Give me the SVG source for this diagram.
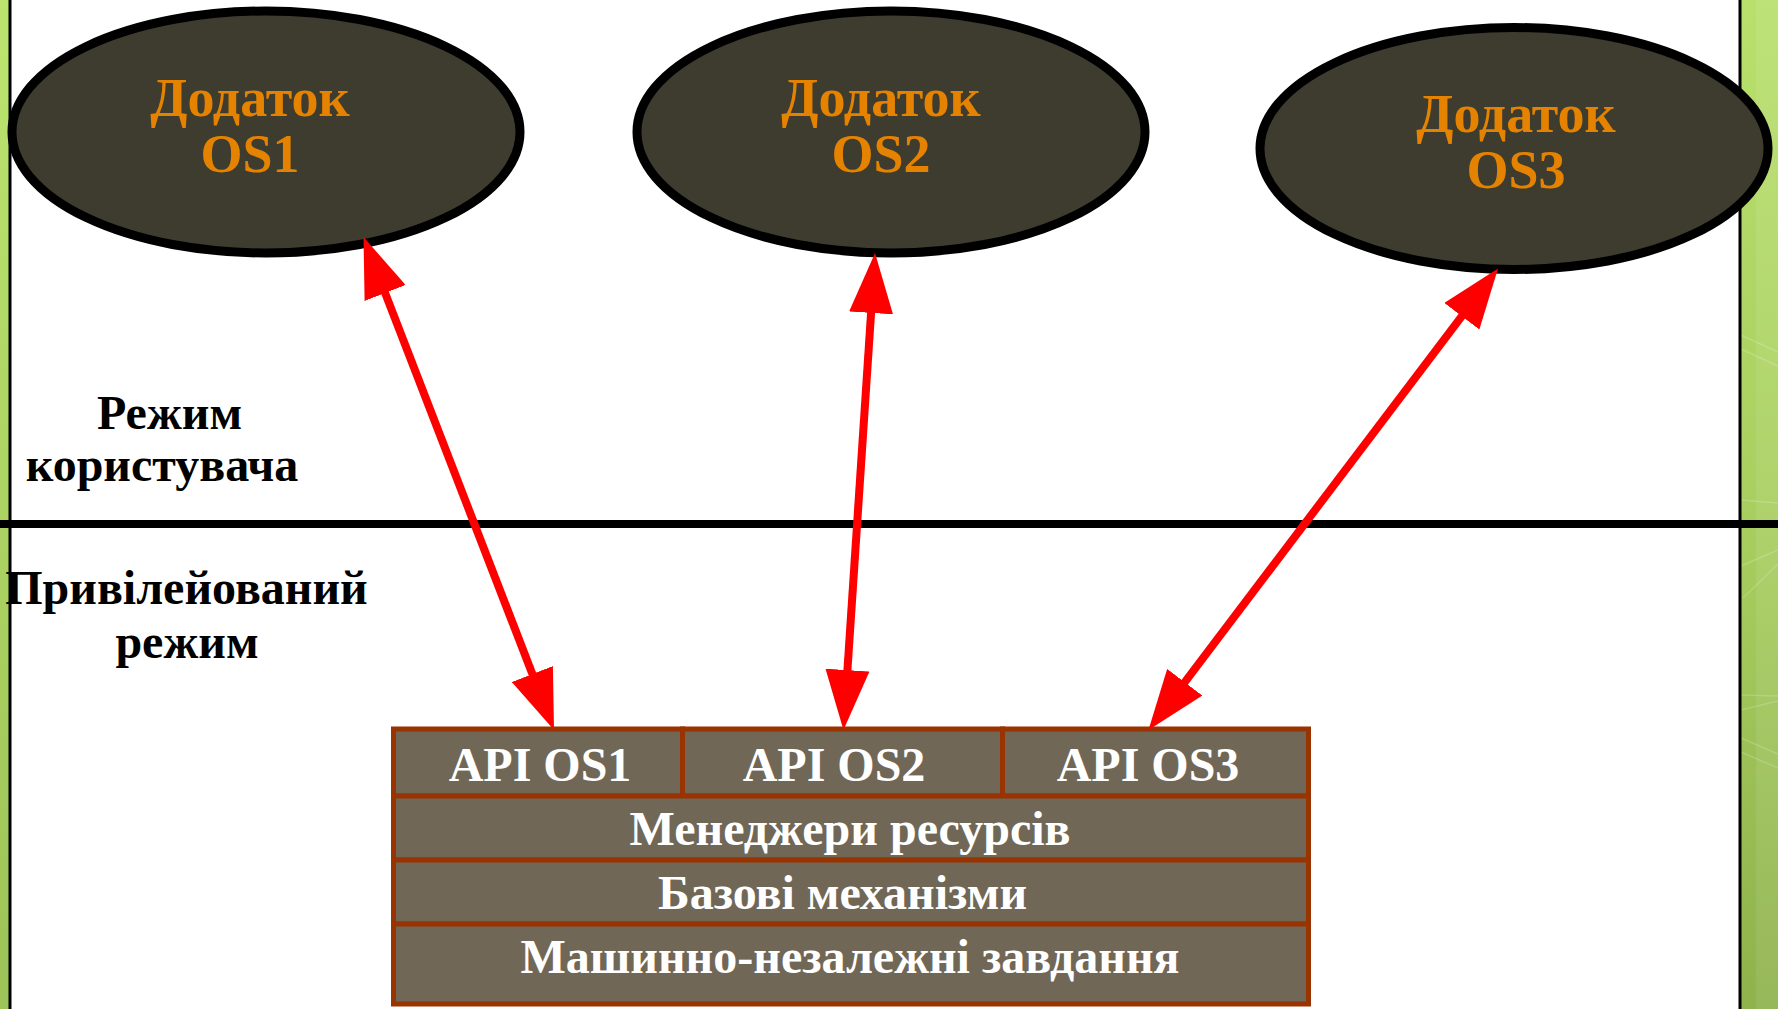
<svg xmlns="http://www.w3.org/2000/svg" width="1778" height="1009" viewBox="0 0 1778 1009">
  <style>
    .app { fill: #3e3c2f; stroke: #000000; stroke-width: 9; }
    .apptxt { font-family: "Liberation Serif", "Times New Roman", serif; font-weight: bold; font-size: 54px; fill: #e58300; text-anchor: middle; }
    .mode { font-family: "Liberation Serif", "Times New Roman", serif; font-weight: bold; font-size: 48px; fill: #000000; text-anchor: middle; }
    .cell { fill: #716757; stroke: #993300; stroke-width: 5; }
    .celltxt { font-family: "Liberation Serif", "Times New Roman", serif; font-weight: bold; font-size: 48px; fill: #ffffff; text-anchor: middle; }
    .conn { stroke: #ff0000; stroke-width: 8; fill: none; marker-start: url(#head); marker-end: url(#head); }
  </style>
  <defs>
    <linearGradient id="greenL" x1="0" y1="0" x2="0" y2="1">
      <stop offset="0" stop-color="#bce46f"/>
      <stop offset="1" stop-color="#9dc257"/>
    </linearGradient>
    <linearGradient id="greenR" x1="0" y1="0" x2="0" y2="1">
      <stop offset="0" stop-color="#b8e06c"/>
      <stop offset="0.5" stop-color="#a9cf60"/>
      <stop offset="1" stop-color="#8fb24c"/>
    </linearGradient>
    <marker id="head" viewBox="0 0 60 44" refX="2" refY="22" markerWidth="60" markerHeight="44" markerUnits="userSpaceOnUse" orient="auto-start-reverse">
      <path d="M0,0 L60,22 L0,44 z" fill="#ff0000"/>
    </marker>
  </defs>

  <rect x="0" y="0" width="1778" height="1009" fill="#ffffff"/>

  <g id="frame">
    <rect x="0" y="0" width="9" height="1009" fill="url(#greenL)"/>
    <rect x="1741" y="0" width="37" height="1009" fill="url(#greenR)"/>
    <rect x="1756" y="0" width="22" height="1009" fill="#ffffff" opacity="0.08"/>
    <g stroke="#ffffff" stroke-opacity="0.18" stroke-width="1.5">
      <line x1="1741" y1="335" x2="1778" y2="352"/>
      <line x1="1741" y1="349" x2="1778" y2="366"/>
      <line x1="1741" y1="500" x2="1778" y2="503"/>
      <line x1="1741" y1="566" x2="1778" y2="550"/>
      <line x1="1743" y1="598" x2="1778" y2="564"/>
      <line x1="1741" y1="695" x2="1778" y2="696"/>
      <line x1="1741" y1="710" x2="1778" y2="701"/>
      <line x1="1741" y1="738" x2="1778" y2="754"/>
      <line x1="1741" y1="752" x2="1778" y2="768"/>
    </g>
    <rect x="8.5" y="0" width="3" height="1009" fill="#000000"/>
    <rect x="1738.5" y="0" width="3" height="1009" fill="#000000"/>
    <rect x="0" y="520" width="1778" height="8" fill="#000000"/>
  </g>

  <g id="label-user">
    <text class="mode" x="169.5" y="429">Режим</text>
    <text class="mode" x="162" y="481">користувача</text>
  </g>
  <g id="label-priv">
    <text class="mode" x="186.5" y="604">Привілейований</text>
    <text class="mode" x="187" y="658">режим</text>
  </g>

  <g id="app-os1">
    <ellipse class="app" cx="266" cy="132" rx="254" ry="121"/>
    <text class="apptxt" x="250" y="116">Додаток</text>
    <text class="apptxt" x="250" y="172">OS1</text>
  </g>
  <g id="app-os2">
    <ellipse class="app" cx="891" cy="132" rx="254" ry="121"/>
    <text class="apptxt" x="881" y="116">Додаток</text>
    <text class="apptxt" x="881" y="172">OS2</text>
  </g>
  <g id="app-os3">
    <ellipse class="app" cx="1514" cy="148.5" rx="254" ry="121"/>
    <text class="apptxt" x="1516" y="132">Додаток</text>
    <text class="apptxt" x="1516" y="188">OS3</text>
  </g>

  <g id="kernel">
    <g id="api-os1">
      <rect class="cell" x="393.5" y="729" width="289" height="67"/>
      <text class="celltxt" x="540" y="781">API OS1</text>
    </g>
    <g id="api-os2">
      <rect class="cell" x="682.5" y="729" width="320" height="67"/>
      <text class="celltxt" x="834" y="781">API OS2</text>
    </g>
    <g id="api-os3">
      <rect class="cell" x="1002.5" y="729" width="306" height="67"/>
      <text class="celltxt" x="1148" y="781">API OS3</text>
    </g>
    <g id="resource-managers">
      <rect class="cell" x="393.5" y="796" width="915" height="64"/>
      <text class="celltxt" x="850" y="845">Менеджери ресурсів</text>
    </g>
    <g id="base-mechanisms">
      <rect class="cell" x="393.5" y="860" width="915" height="64"/>
      <text class="celltxt" x="842.5" y="909">Базові механізми</text>
    </g>
    <g id="machine-independent">
      <rect class="cell" x="393.5" y="924" width="915" height="80"/>
      <text class="celltxt" x="850" y="973">Машинно-незалежні завдання</text>
    </g>
  </g>

  <g id="connectors">
    <line class="conn" x1="384.4" y1="291.1" x2="533.1" y2="675.9"/>
    <line class="conn" x1="871.2" y1="310.9" x2="847.3" y2="672.1"/>
    <line class="conn" x1="1463" y1="314.7" x2="1183.5" y2="683.8"/>
  </g>
</svg>
